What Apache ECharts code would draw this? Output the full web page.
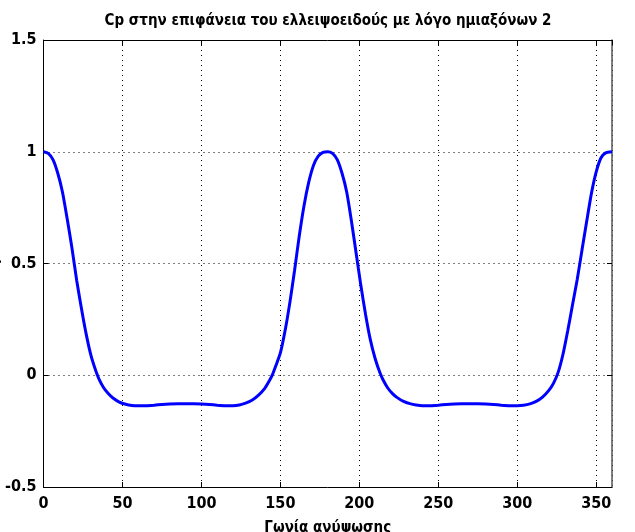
<!DOCTYPE html>
<html>
<head>
<meta charset="utf-8">
<script src="https://cdn.jsdelivr.net/npm/echarts@6/dist/echarts.min.js"></script>
<style>
  html, body { margin: 0; padding: 0; background: #fff; }
  #chart { width: 635px; height: 532px; }
</style>
</head>
<body>
<div id="chart"></div>
<script>
// Pressure coefficient on the ellipsoid surface vs. angle (degrees)
const angles = [
  0, 3, 6, 9, 12, 15, 18, 21, 24, 27, 30, 33, 35, 38, 41, 44, 48, 52, 56, 60, 65,
  70, 75, 80, 85, 90, 95, 100, 105, 110, 115, 120, 124, 128, 132, 136, 140, 143, 145, 147, 150,
  153, 156, 159, 162, 165, 168, 171, 174, 177, 180, 183, 186, 189, 192, 195, 198, 201, 204, 207, 210,
  213, 215, 218, 221, 224, 228, 232, 236, 240, 245, 250, 255, 260, 265, 270, 275, 280, 285, 290, 295, 300,
  304, 308, 312, 316, 320, 323, 326, 329, 332, 335, 338, 341, 344, 347, 350, 353, 356, 360
];
const cpValues = [
  1.000, 0.993, 0.965, 0.905, 0.820, 0.700, 0.570, 0.425, 0.300, 0.185, 0.090, 0.022, -0.015, -0.055, -0.082, -0.102, -0.120, -0.130, -0.135, -0.136, -0.136,
  -0.134, -0.131, -0.129, -0.128, -0.128, -0.128, -0.129, -0.131, -0.134, -0.136, -0.136, -0.133, -0.125, -0.112, -0.090, -0.060, -0.025, 0.003, 0.040, 0.100,
  0.200, 0.325, 0.470, 0.625, 0.760, 0.865, 0.940, 0.980, 0.997, 1.000, 0.993, 0.965, 0.905, 0.820, 0.690, 0.545, 0.400, 0.270, 0.158, 0.075,
  0.012, -0.020, -0.057, -0.082, -0.100, -0.117, -0.127, -0.133, -0.136, -0.136, -0.134, -0.131, -0.129, -0.128, -0.128, -0.128, -0.129, -0.131, -0.134, -0.136, -0.136,
  -0.134, -0.128, -0.117, -0.098, -0.068, -0.035, 0.015, 0.095, 0.200, 0.315, 0.430, 0.560, 0.690, 0.815, 0.910, 0.972, 0.995, 1.000
];
const xTicks = [0, 50, 100, 150, 200, 250, 300, 350];
const yTicks = [-0.5, 0, 0.5, 1, 1.5];

const titleText = 'Cp στην επιφάνεια του ελλειψοειδούς με λόγο ημιαξόνων 2';
const xName = 'Γωνία ανύψωσης';
const yName = 'Cp';

const FONT = "'Liberation Sans Narrow', 'DejaVu Sans Condensed', sans-serif";

const points = angles.map((a, i) => [a, cpValues[i]]);

const gridDots = { show: true, lineStyle: { color: '#000', width: 1, type: [1, 4] } };
const boxLine = { show: true, onZero: false, lineStyle: { color: '#000', width: 1 } };
const inTick = { show: true, inside: true, length: 5, lineStyle: { color: '#000', width: 1 } };

const chart = echarts.init(document.getElementById('chart'), null, { renderer: 'canvas' });
chart.setOption({
  animation: false,
  backgroundColor: '#fff',
  title: {
    text: titleText,
    left: 323,
    textAlign: 'center',
    top: 9,
    textStyle: { fontFamily: FONT, fontWeight: 'bold', fontSize: 15, color: '#000' }
  },
  // vertical y-axis caption, sitting against the left page edge
  graphic: [{
    type: 'text',
    x: 2, y: 264,
    rotation: Math.PI / 2,
    style: {
      text: yName, align: 'center', verticalAlign: 'bottom',
      fill: '#000', font: "bold 15px 'Liberation Sans Narrow', 'DejaVu Sans Condensed', sans-serif"
    }
  }],
  grid: { left: 43.5, right: 23, top: 40, bottom: 45, containLabel: false, outerBoundsMode: 'none' },
  xAxis: [
    {
      type: 'value', min: 0, max: 360, interval: 50,
      axisLine: boxLine, axisTick: inTick,
      splitLine: gridDots,
      axisLabel: {
        color: '#000', fontFamily: FONT, fontWeight: 'bold', fontSize: 16, margin: 9,
        showMaxLabel: false,
        formatter: v => (xTicks.indexOf(v) >= 0 ? String(v) : '')
      },
      name: xName, nameLocation: 'middle', nameGap: 34,
      nameTextStyle: { color: '#000', fontFamily: FONT, fontWeight: 'bold', fontSize: 15 }
    },
    {
      type: 'value', position: 'top', min: 0, max: 360, interval: 50,
      axisLine: boxLine, axisTick: inTick, axisLabel: { show: false }, splitLine: { show: false }
    }
  ],
  yAxis: [
    {
      type: 'value', min: -0.5, max: 1.5, interval: 0.5,
      axisLine: boxLine, axisTick: inTick,
      splitLine: gridDots,
      axisLabel: {
        color: '#000', fontFamily: FONT, fontWeight: 'bold', fontSize: 16, margin: 7,
        formatter: v => (yTicks.indexOf(v) >= 0 ? String(v) : '')
      }
    },
    {
      type: 'value', position: 'right', min: -0.5, max: 1.5, interval: 0.5,
      axisLine: { show: true, onZero: false, lineStyle: { color: '#555', width: 1.5 } },
      axisTick: inTick, axisLabel: { show: false }, splitLine: { show: false }
    }
  ],
  series: [{
    type: 'line',
    data: points,
    xAxisIndex: 0, yAxisIndex: 0,
    showSymbol: false,
    smooth: 0.2,
    lineStyle: { color: '#0000ff', width: 3 }
  }]
});
</script>
</body>
</html>
